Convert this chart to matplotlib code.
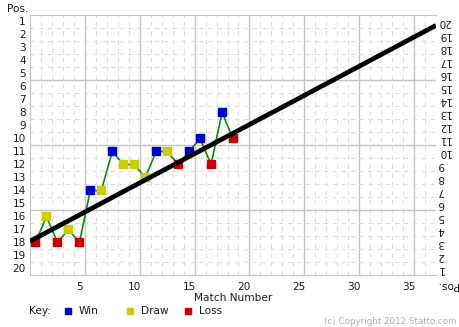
import matplotlib.pyplot as plt
import numpy as np
from matplotlib.lines import Line2D

# league position after each match
matches = list(range(1, 20))
positions = [18, 16, 18, 17, 18, 14, 14, 11, 12, 12, 13, 11, 11, 12, 11, 10, 12, 8, 10]
results = ['L', 'D', 'L', 'D', 'L', 'W', 'D', 'W', 'D', 'D', 'D', 'W', 'D', 'L', 'W', 'W', 'L', 'W', 'L']

# thick black projection line (start / end)
trend_x = [0.5, 37.5]
trend_y = [17.9, 1.3]

colours = {'W': '#0000cc', 'D': '#cccc00', 'L': '#cc0000'}
key_labels = ['Win', 'Draw', 'Loss']
key_codes = ['W', 'D', 'L']

x_ticks = [5, 10, 15, 20, 25, 30, 35]
y_ticks = list(range(1, 21))

fig = plt.figure(figsize=(4.59, 3.27), dpi=100)
ax = fig.add_axes([30 / 459, 52 / 327, 406 / 459, 260 / 327])

ax.set_xlim(0.5, 37.5)
ax.set_ylim(20.5, 0.5)

# grid: dashed every cell, solid every 5
for v in np.arange(1.5, 37.5, 1):
    if (v - 0.5) % 5 == 0:
        ax.axvline(v, color='#c4c4c4', lw=1, zorder=0)
    else:
        ax.axvline(v, color='#dcdcdc', lw=0.8, ls=(0, (4, 4)), zorder=0)
for h in np.arange(1.5, 20.5, 1):
    if (h - 0.5) % 5 == 0:
        ax.axhline(h, color='#c4c4c4', lw=1, zorder=0)
    else:
        ax.axhline(h, color='#dcdcdc', lw=0.8, ls=(0, (4, 4)), zorder=0)

ax.plot(matches, positions, color='#118811', lw=1.2, zorder=2)
for m, p, r in zip(matches, positions, results):
    ax.plot(m, p, marker='s', ms=5.2, color=colours[r], mec=colours[r], zorder=3, ls='none')
ax.plot(trend_x, trend_y, color='black', lw=3.4, solid_capstyle='butt', zorder=5)

for s in ax.spines.values():
    s.set_color('#c4c4c4')
ax.spines['right'].set_visible(False)

ax.set_xticks(x_ticks)
ax.set_yticks(y_ticks)
ax.tick_params(length=0, labelsize=7.6, colors='#1a1a1a')
ax.tick_params(axis='x', pad=5)
ax.tick_params(axis='y', pad=3)
ax.set_xlabel('Match Number', fontsize=7.6, labelpad=1, color='#1a1a1a')

ax2 = ax.twinx()
ax2.set_ylim(20.5, 0.5)
ax2.set_yticks(y_ticks)
ax2.set_yticklabels([str(21 - t) for t in y_ticks], rotation=180)
ax2.tick_params(length=0, labelsize=7.6, pad=1, colors='#1a1a1a')
for s in ax2.spines.values():
    s.set_visible(False)

fig.text(18 / 459, 1 - 9 / 327, 'Pos.', fontsize=7.6, ha='center', va='center', color='#1a1a1a')
fig.text(447 / 459, 1 - 285 / 327, 'Pos.', fontsize=7.6, ha='center', va='center', rotation=180, color='#1a1a1a')

# key
ky = 1 - 311 / 327
fig.text(29 / 459, ky, 'Key:', fontsize=7.6, va='center', color='#1a1a1a')
key_x = [68, 130, 188]
for kx, lab, c in zip(key_x, key_labels, key_codes):
    fig.add_artist(Line2D([kx / 459], [ky], marker='s', ms=5, color=colours[c], ls='none'))
    fig.text((kx + 11) / 459, ky, lab, fontsize=7.6, va='center', color='#1a1a1a')

fig.text(457 / 459, 1 - 322 / 327, '(c) Copyright 2012 Statto.com', fontsize=6.3,
         ha='right', va='center', color='#b0b0b0')

fig.savefig('out.png', dpi=100)
